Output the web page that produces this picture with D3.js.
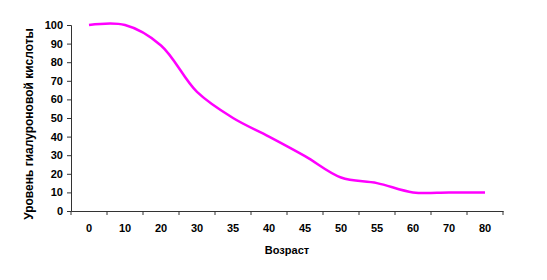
<!DOCTYPE html>
<html><head><meta charset="utf-8">
<script src="https://cdn.jsdelivr.net/npm/d3@7/dist/d3.min.js"></script>
<style>body{margin:0;background:#fff}svg{display:block}text{font-family:Arial,"Liberation Sans",sans-serif;font-weight:bold;font-size:11px;fill:#000}</style>
</head><body>
<script>
const categories = ["0","10","20","30","35","40","45","50","55","60","70","80"];
const values = [100,100,89,64,50,40,29.5,18,15,10,10,10];
const yTicks = [0,10,20,30,40,50,60,70,80,90,100];
const xTitle = "Возраст";
const yTitle = "Уровень гиалуроновой кислоты";

const W=547,H=280;
const svg=d3.select("body").append("svg").attr("width",W).attr("height",H);
const x=d3.scaleBand().domain(categories).range([71,503]);
const y=d3.scaleLinear().domain([0,100]).range([211,25]);

// y axis
const ya=svg.append("g").attr("transform","translate(71,0)")
  .call(d3.axisLeft(y).tickValues(yTicks).tickSize(4).tickPadding(4));
ya.select(".domain").attr("stroke","#333");
ya.selectAll("line").attr("stroke","#333");
ya.selectAll("text").attr("font-size",11).attr("font-weight","bold").attr("fill","#000");

// x axis
const xa=svg.append("g").attr("transform","translate(0,211)")
  .call(d3.axisBottom(x).tickSize(0).tickPadding(13).tickSizeOuter(0));
xa.select(".domain").attr("stroke","#333");
xa.selectAll("text").attr("font-size",11).attr("font-weight","bold").attr("fill","#000");
// tick marks between categories
const bounds=categories.map(c=>x(c)).concat([x.range()[1]]);
xa.selectAll(".bt").data(bounds).enter().append("line").attr("class","bt")
  .attr("x1",d=>d).attr("x2",d=>d).attr("y1",0).attr("y2",4).attr("stroke","#333");

const line=d3.line().x((d,i)=>x(categories[i])+x.bandwidth()/2).y(d=>y(d)).curve(d3.curveCatmullRom.alpha(0.5));
svg.append("path").datum(values).attr("d",line).attr("fill","none").attr("stroke","#FF00FF").attr("stroke-width",2.5);

svg.append("text").attr("x",287).attr("y",254).attr("text-anchor","middle").text(xTitle);
svg.append("text").attr("transform","translate(33,124) rotate(-90)").attr("text-anchor","middle").attr("font-size",12).style("font-size","12px").text(yTitle);
</script>
</body></html>
